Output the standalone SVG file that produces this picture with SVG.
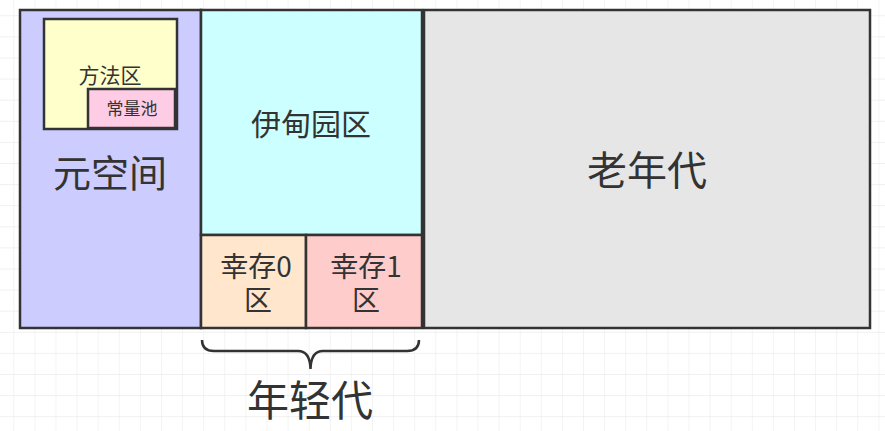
<svg xmlns="http://www.w3.org/2000/svg" width="885" height="431" viewBox="0 0 885 431">
<style>
.box{stroke:#333;stroke-width:2.5}
.t{font-family:"Noto Sans CJK SC","Noto Sans",sans-serif;fill:#333;text-anchor:middle}
</style>
<defs>
<pattern id="grid" x="13.3" y="15.3" width="21.1" height="21.1" patternUnits="userSpaceOnUse">
<path d="M0 0V21.1M0 0H21.1" fill="none" stroke="#ececec" stroke-width="1.2"/>
</pattern>
</defs>
<rect width="885" height="431" fill="#fff"/>
<rect width="885" height="431" fill="url(#grid)"/>
<g id="metaspace">
<rect class="box" x="20" y="10" width="181" height="318" fill="#ccccff"/>
<text class="t" x="110" y="187" font-size="38">元空间</text>
</g>
<g id="method-area">
<rect class="box" x="44" y="19" width="133" height="110" fill="#ffffcc"/>
<text class="t" x="110" y="83" font-size="21">方法区</text>
</g>
<g id="constant-pool">
<rect class="box" x="88" y="89" width="87" height="39" fill="#ffcce6"/>
<text class="t" x="132" y="115" font-size="17">常量池</text>
</g>
<g id="eden">
<rect class="box" x="201" y="10" width="221" height="225" fill="#ccffff"/>
<text class="t" x="311" y="135" font-size="30">伊甸园区</text>
</g>
<g id="survivor0">
<rect class="box" x="201" y="235" width="105" height="93" fill="#ffe6cc"/>
<text class="t" font-size="28"><tspan x="256" y="277">幸存0</tspan><tspan x="258" y="311">区</tspan></text>
</g>
<g id="survivor1">
<rect class="box" x="306" y="235" width="116" height="93" fill="#ffcccc"/>
<text class="t" font-size="28"><tspan x="366" y="277">幸存1</tspan><tspan x="366" y="311">区</tspan></text>
</g>
<g id="old-gen">
<rect class="box" x="424" y="10" width="446" height="318" fill="#e6e6e6"/>
<text class="t" x="647" y="185" font-size="40">老年代</text>
</g>
<g id="connectors">
<path d="M202 340Q202 351 214 351H298Q310 351 310.5 369Q311 351 323 351H407Q419 351 419 340" fill="none" stroke="#333" stroke-width="2.5"/>
</g>
<g id="young-gen">
<text class="t" x="310" y="416" font-size="42">年轻代</text>
</g>
</svg>
